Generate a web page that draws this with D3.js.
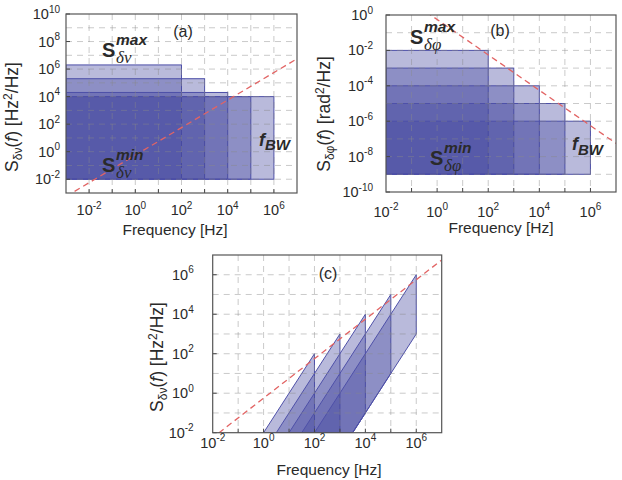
<!doctype html>
<html lang="en">
<head>
	<meta charset="utf-8">
	<title>Noise PSD regions</title>
	<script src="https://d3js.org/d3.v7.min.js"></script>
	<style>
		body { margin: 0; background: #fff; }
		text { font-family: "Liberation Sans", Arial, sans-serif; fill: #2a2a2a; }
	</style>
</head>
<body>
	<script>
		// ---- data ----
		// laser bandwidths f_BW (right edge of every block) [Hz]
		var fBW = [1e2, 1e3, 1e4, 1e5, 1e6];

		// (a) frequency noise blocks S_dv [Hz^2/Hz]
		var freqStartA = 1e-3;
		var freqTopA = [2e6, 2e5, 2e4, 1e4, 1e4];
		var freqBottomA = [1e-2, 1e-2, 1e-2, 1e-2, 1e-2];

		// (b) phase noise blocks S_dphi [rad^2/Hz]
		var freqStartB = 1e-2;
		var phaseTopB = [1e-2, 1e-3, 1e-4, 1e-5, 1e-6];
		var phaseBottomB = [1e-9, 1e-9, 1e-9, 1e-9, 1e-9];

		// (c) the same blocks seen as frequency noise, vertices [f, S]
		var polyC = [
			[[1, 1e-2], [1e2, 1e2], [1e2, 1e-2]],
			[[3.16, 1e-2], [1e3, 1e3], [1e3, 1e-2]],
			[[10, 1e-2], [1e4, 1e4], [1e4, 0.1], [3162, 1e-2]],
			[[31.6, 1e-2], [1e5, 1e5], [1e5, 10], [3162, 1e-2]],
			[[100, 1e-2], [1e6, 1e6], [1e6, 1e3], [3162, 1e-2]]
		];

		// beta-separation line, end points
		var betaFreq = [1e-3, 1e7];
		var betaA = [5.6e-4, 5.6e6];
		var betaB = [5.6e2, 5.6e-8];
		var betaC = [5.6e-4, 5.6e6];

		// tick labels (exponents)
		var xTickExp = [-2, 0, 2, 4, 6];
		var yTickExpA = [-2, 0, 2, 4, 6, 8, 10];
		var yTickExpB = [-10, -8, -6, -4, -2, 0];
		var yTickExpC = [-2, 0, 2, 4, 6];

		var width = 622, height = 480;
		var svg = d3.select("body").append("svg")
			.attr("width", width)
			.attr("height", height);

		var fillColor = "rgb(72,74,160)";
		var strokeColor = "rgb(78,80,168)";

		var panels = [
			{ id: "a", left: 66, right: 297, top: 14, bottom: 193, xExp: [-3, 7], yExp: [-3, 10],
			  yTicks: yTickExpA, xLabY: 215, yGap: 6, xTitle: [175, 235], yTitle: [18, 117],
			  ySub: "\u03b4\u03bd", yUnit: "Hz", tag: [183, 36.5] },
			{ id: "b", left: 386, right: 616, top: 15, bottom: 192, xExp: [-2, 7], yExp: [-10, 0],
			  yTicks: yTickExpB, xLabY: 216.5, yGap: 13, xTitle: [501, 233], yTitle: [330, 114],
			  ySub: "\u03b4\u03c6", yUnit: "rad", tag: [500, 36] },
			{ id: "c", left: 212.7, right: 441.7, top: 255, bottom: 432.7, xExp: [-2, 7], yExp: [-2, 7],
			  yTicks: yTickExpC, xLabY: 447.5, yGap: 19, xTitle: [329, 475], yTitle: [163, 357],
			  ySub: "\u03b4\u03bd", yUnit: "Hz", tag: [328, 279] }
		];

		panels.forEach(function(p) {
			var x = d3.scaleLog().domain([Math.pow(10, p.xExp[0]), Math.pow(10, p.xExp[1])]).range([p.left, p.right]);
			var y = d3.scaleLog().domain([Math.pow(10, p.yExp[0]), Math.pow(10, p.yExp[1])]).range([p.bottom, p.top]);
			var g = svg.append("g").attr("class", "panel-" + p.id);

			svg.append("clipPath").attr("id", "clip-" + p.id)
				.append("rect")
				.attr("x", p.left).attr("y", p.top)
				.attr("width", p.right - p.left).attr("height", p.bottom - p.top);

			var body = g.append("g").attr("clip-path", "url(#clip-" + p.id + ")");

			// shapes
			if (p.id == "a" || p.id == "b") {
				var tops = p.id == "a" ? freqTopA : phaseTopB;
				var bots = p.id == "a" ? freqBottomA : phaseBottomB;
				var start = p.id == "a" ? freqStartA : freqStartB;
				body.selectAll("rect.block")
					.data(fBW)
					.enter()
					.append("rect")
					.attr("class", "block")
					.attr("x", x(start))
					.attr("y", function(d, i) { return y(tops[i]); })
					.attr("width", function(d) { return x(d) - x(start); })
					.attr("height", function(d, i) { return y(bots[i]) - y(tops[i]); })
					.style("fill", fillColor)
					.style("fill-opacity", 0.38)
					.style("stroke", strokeColor)
					.style("stroke-width", 1);
			} else {
				var line = d3.line().x(function(d) { return x(d[0]); }).y(function(d) { return y(d[1]); });
				body.selectAll("path.block")
					.data(polyC)
					.enter()
					.append("path")
					.attr("class", "block")
					.attr("d", function(d) { return line(d) + "Z"; })
					.style("fill", fillColor)
					.style("fill-opacity", 0.38)
					.style("stroke", strokeColor)
					.style("stroke-width", 1)
					.style("stroke-linejoin", "round");
			}

			// dashed grid on every decade, drawn over the blocks
			var gx = d3.range(p.xExp[0] + 1, p.xExp[1]);
			var gy = d3.range(p.yExp[0] + 1, p.yExp[1]);
			body.selectAll("line.gx").data(gx).enter().append("line")
				.attr("x1", function(d) { return x(Math.pow(10, d)); })
				.attr("x2", function(d) { return x(Math.pow(10, d)); })
				.attr("y1", p.top).attr("y2", p.bottom)
				.style("stroke", "#8a8a8a").style("stroke-opacity", 0.45)
				.style("stroke-dasharray", "6,5");
			body.selectAll("line.gy").data(gy).enter().append("line")
				.attr("y1", function(d) { return y(Math.pow(10, d)); })
				.attr("y2", function(d) { return y(Math.pow(10, d)); })
				.attr("x1", p.left).attr("x2", p.right)
				.style("stroke", "#8a8a8a").style("stroke-opacity", 0.45)
				.style("stroke-dasharray", "6,5");

			// beta-separation line
			var bv = p.id == "a" ? betaA : (p.id == "b" ? betaB : betaC);
			body.append("line")
				.attr("x1", x(betaFreq[0])).attr("y1", y(bv[0]))
				.attr("x2", x(betaFreq[1])).attr("y2", y(bv[1]))
				.style("stroke", "#e26464")
				.style("stroke-width", 1.3)
				.style("stroke-dasharray", "6,4");

			// ticks
			g.selectAll("line.tx").data(gx).enter().append("line")
				.attr("x1", function(d) { return x(Math.pow(10, d)); })
				.attr("x2", function(d) { return x(Math.pow(10, d)); })
				.attr("y1", p.bottom).attr("y2", p.bottom - 4)
				.style("stroke", "#444");
			g.selectAll("line.ty").data(p.yTicks).enter().append("line")
				.attr("y1", function(d) { return y(Math.pow(10, d)); })
				.attr("y2", function(d) { return y(Math.pow(10, d)); })
				.attr("x1", p.left).attr("x2", p.left + 4)
				.style("stroke", "#444");

			// frame
			g.append("rect")
				.attr("x", p.left).attr("y", p.top)
				.attr("width", p.right - p.left).attr("height", p.bottom - p.top)
				.style("fill", "none").style("stroke", "#555").style("stroke-width", 1.2);

			// tick labels
			var xl = g.selectAll("text.xl").data(xTickExp).enter().append("text")
				.attr("x", function(d) { return x(Math.pow(10, d)); })
				.attr("y", p.xLabY)
				.attr("text-anchor", "middle")
				.style("font-size", "14.5px");
			xl.append("tspan").text("10");
			xl.append("tspan").attr("dy", -6.5).style("font-size", "10px").text(function(d) { return d; });

			var yl = g.selectAll("text.yl").data(p.yTicks).enter().append("text")
				.attr("x", p.left - p.yGap)
				.attr("y", function(d) { return y(Math.pow(10, d)) + 5; })
				.attr("text-anchor", "end")
				.style("font-size", "14.5px");
			yl.append("tspan").text("10");
			yl.append("tspan").attr("dy", -6.5).style("font-size", "10px").text(function(d) { return d; });

			// axis titles
			g.append("text")
				.attr("x", p.xTitle[0]).attr("y", p.xTitle[1])
				.attr("text-anchor", "middle")
				.style("font-size", "15.5px")
				.text("Frequency [Hz]");

			var yt = g.append("text")
				.attr("transform", "translate(" + p.yTitle[0] + "," + p.yTitle[1] + ") rotate(-90)")
				.attr("text-anchor", "middle")
				.style("font-size", "17.5px");
			yt.append("tspan").text("S");
			yt.append("tspan").attr("dy", 4).style("font-size", "12px").text(p.ySub);
			yt.append("tspan").attr("dy", -4).text("(");
			yt.append("tspan").style("font-style", "italic").text("f");
			yt.append("tspan").text(") [" + p.yUnit);
			yt.append("tspan").attr("dy", -6.5).style("font-size", "12px").text("2");
			yt.append("tspan").attr("dy", 6.5).text("/Hz]");

			// panel tag
			g.append("text")
				.attr("x", p.tag[0]).attr("y", p.tag[1])
				.attr("text-anchor", "middle")
				.style("font-size", "16px")
				.text("(" + p.id + ")");
		});

		// S^max / S^min and f_BW annotations
		function sLabel(x0, y0, sup, sub) {
			svg.append("text").attr("x", x0).attr("y", y0)
				.style("font-size", "20px").style("font-weight", "bold").text("S");
			svg.append("text").attr("x", x0 + 14).attr("y", y0 - 12)
				.style("font-size", "15.5px").style("font-weight", "bold").style("font-style", "italic").text(sup);
			svg.append("text").attr("x", x0 + 14).attr("y", y0 + 6)
				.style("font-family", "'Liberation Serif', 'DejaVu Serif', serif")
				.style("font-size", "17px").style("font-style", "italic").text(sub);
		}
		function fLabel(x0, y0) {
			svg.append("text").attr("x", x0).attr("y", y0)
				.style("font-size", "18px").style("font-weight", "bold").style("font-style", "italic").text("f");
			svg.append("text").attr("x", x0 + 6).attr("y", y0 + 4.5)
				.style("font-size", "15px").style("font-weight", "bold").style("font-style", "italic").text("BW");
		}
		sLabel(102, 57, "max", "\u03b4\u03bd");
		sLabel(102, 172, "min", "\u03b4\u03bd");
		sLabel(410, 44, "max", "\u03b4\u03c6");
		sLabel(430, 165, "min", "\u03b4\u03c6");
		fLabel(259, 145.5);
		fLabel(572, 150);
	</script>
</body>
</html>
